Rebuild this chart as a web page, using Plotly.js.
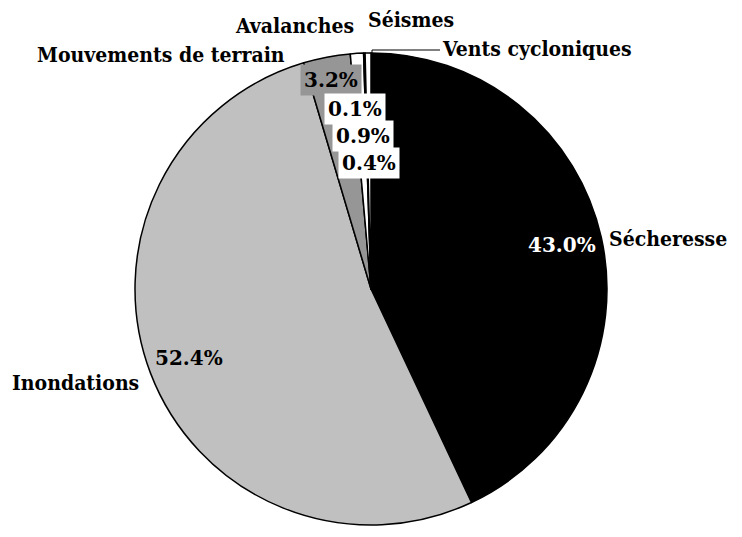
<!DOCTYPE html>
<html>
<head>
<meta charset="utf-8">
<script src="https://cdn.plot.ly/plotly-3.0.1.min.js"></script>
<style>html,body{margin:0;padding:0;background:#fff;}#chart{width:742px;height:537px;}</style>
</head>
<body>
<div id="chart"></div>
<script>
// Data (slice order, clockwise from 12 o'clock)
const categories = ['Sécheresse', 'Inondations', 'Mouvements de terrain', 'Séismes', 'Avalanches', 'Vents cycloniques'];
const shares = [43.0, 52.4, 3.2, 0.9, 0.1, 0.4];
const sliceColors = ['#000000', '#c0c0c0', '#969696', '#ffffff', '#ffffff', '#ffffff'];

const W = 742, H = 537;
const px = x => x / W;
const py = y => 1 - y / H;
const pct = v => v.toFixed(1) + '%';

const nameFont = {family: 'DejaVu Serif Condensed', size: 21, color: '#000'};
const pctFont = {family: 'DejaVu Serif', size: 20, color: '#000'};

function bold(s){ return '<b>' + s + '</b>'; }

// percentage label placements (pixel centres) keyed by category index
const pctPos = {
  0: {x: 562, y: 245, color: '#ffffff', bg: null},
  1: {x: 189, y: 358, color: '#000000', bg: null},
  2: {x: 331, y: 80, color: '#000000', bg: '#969696'},
  4: {x: 355, y: 109, color: '#000000', bg: '#ffffff'},
  3: {x: 363, y: 136, color: '#000000', bg: '#ffffff'},
  5: {x: 369, y: 163, color: '#000000', bg: '#ffffff'}
};
const namePos = {
  0: {x: 607, y: 238, xanchor: 'left'},
  1: {x: 141, y: 382, xanchor: 'right'},
  2: {x: 287, y: 54, xanchor: 'right'},
  4: {x: 356, y: 25, xanchor: 'right'},
  3: {x: 366, y: 20, xanchor: 'left'},
  5: {x: 440, y: 49, xanchor: 'left'}
};

const annotations = [];
categories.forEach((c, i) => {
  const n = namePos[i];
  annotations.push({xref: 'paper', yref: 'paper', x: px(n.x), y: py(n.y), xanchor: n.xanchor, yanchor: 'middle',
    text: bold(c), showarrow: false, font: nameFont});
  const p = pctPos[i];
  const a = {xref: 'paper', yref: 'paper', x: px(p.x), y: py(p.y), xanchor: 'center', yanchor: 'middle',
    text: bold(pct(shares[i])), showarrow: false, font: Object.assign({}, pctFont, {color: p.color}), borderpad: 3};
  if (p.bg) a.bgcolor = p.bg;
  annotations.push(a);
});

const cx = 371, cy = 289, R = 236;
const trace = {
  type: 'pie',
  labels: categories,
  values: shares,
  sort: false,
  direction: 'clockwise',
  rotation: 0,
  textinfo: 'none',
  hoverinfo: 'label+percent',
  marker: {colors: sliceColors, line: {color: '#000000', width: 1.5}},
  domain: {x: [px(cx - R), px(cx + R)], y: [py(cy + R), py(cy - R)]},
  showlegend: false
};

const layout = {
  width: W, height: H,
  margin: {l: 0, r: 0, t: 0, b: 0},
  paper_bgcolor: '#ffffff',
  showlegend: false,
  annotations: annotations,
  shapes: [{type: 'path', xref: 'paper', yref: 'paper',
    path: 'M ' + px(372) + ',' + py(56) + ' L ' + px(372) + ',' + py(50) + ' L ' + px(440) + ',' + py(50),
    line: {color: '#000', width: 1}}]
};

Plotly.newPlot('chart', [trace], layout, {displayModeBar: false, staticPlot: true});
</script>
</body>
</html>
